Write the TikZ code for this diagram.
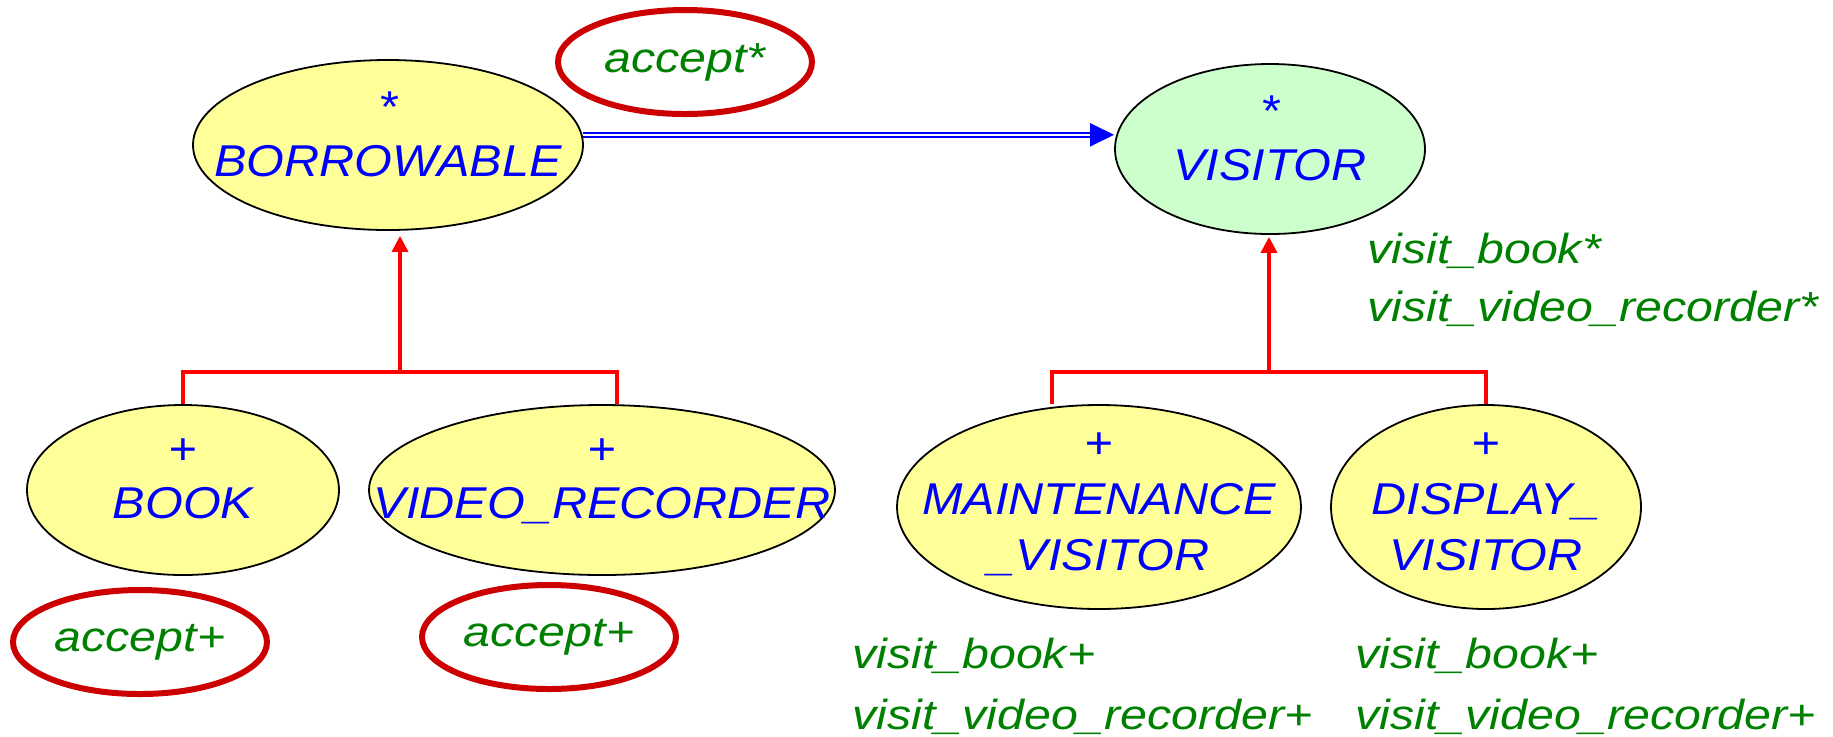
\documentclass[tikz,border=0pt]{standalone}
\usepackage{fontspec}
\setmainfont{Liberation Sans}
\newfontfamily\clsfam[FakeStretch=1.09]{Liberation Sans}
\newfontfamily\featfam[FakeStretch=1.15]{Liberation Sans}
\usetikzlibrary{arrows.meta,shapes.geometric}
\definecolor{clsyellow}{RGB}{255,255,153}
\definecolor{clsgreen}{RGB}{204,255,204}
\definecolor{featgreen}{RGB}{0,128,0}
\definecolor{ringred}{RGB}{204,0,0}
\newcommand\clsfont{\clsfam\fontsize{22.3}{27}\selectfont\itshape\lineskiplimit=-100pt}
\newcommand\featfont{\featfam\fontsize{21}{27}\selectfont\itshape}
\newcommand\stA{\rule[-11pt]{0pt}{16pt}}
\newcommand\stB{\rule[-6.5pt]{0pt}{20.5pt}}
\begin{document}
\begin{tikzpicture}[x=0.5pt,y=-0.5pt,
  cls/.style={ellipse, draw=black, line width=0.9pt, fill=clsyellow, text=blue,
    inner xsep=-400pt, inner ysep=-100pt, align=center, font=\clsfont},
  ring/.style={ellipse, draw=ringred, line width=3pt, text=featgreen,
    inner xsep=-400pt, inner ysep=-100pt, font=\featfont,
    minimum width=127pt, minimum height=52pt},
  feat/.style={anchor=base west, inner sep=0pt, text=featgreen, font=\featfont},
  inh/.style={draw=red, line width=1.7pt},
  inharrow/.style={inh, -{Triangle[length=8pt,width=8pt]}},
  assoc/.style={draw=blue, line width=1pt, double=white, double distance=1pt,
    -{Triangle[length=12pt,width=11.5pt]}}]
\useasboundingbox (0,0) rectangle (1833,736);

% classes
\node[cls, minimum width=195pt, minimum height=85pt] (borrow) at (388,145)
  {\stA *\\\stA BORROWABLE};
\node[cls, fill=clsgreen, minimum width=155pt, minimum height=85pt] (visitor) at (1270,149)
  {\stA *\\\stA VISITOR};
\node[cls, minimum width=156pt, minimum height=85pt] (book) at (183,490)
  {\stA +\\\stA BOOK};
\node[cls, minimum width=233pt, minimum height=85pt] (vr) at (602,490)
  {\stA +\\\stA VIDEO\_RECORDER};
\node[cls, minimum width=202pt, minimum height=102pt] (maint) at (1099,507)
  {\stB +\\[1pt]\stB MAINTENANCE\\[1pt]\stB \_VISITOR};
\node[cls, minimum width=155pt, minimum height=102pt] (disp) at (1486,507)
  {\stB +\\[1pt]\stB DISPLAY\_\\[1pt]\stB VISITOR};

% feature rings
\node[ring] (accA) at (685,62) {accept*};
\node[ring] (accB) at (140,642) {accept+};
\node[ring] (accC) at (549,637) {accept+};

% feature lists
\node[feat] (vtop1) at (1367,263) {visit\_book*};
\node[feat] (vtop2) at (1367,321) {visit\_video\_recorder*};
\node[feat] (vml1) at (852,668) {visit\_book+};
\node[feat] (vml2) at (852,729) {visit\_video\_recorder+};
\node[feat] (vdr1) at (1355,668) {visit\_book+};
\node[feat] (vdr2) at (1355,729) {visit\_video\_recorder+};

% client relation
\draw[assoc] (borrow.3) -- (visitor.west |- borrow.3);

% inheritance, left
\coordinate (jl) at (400,372);
\coordinate (jlr) at (617,372);
\draw[inharrow, shorten >=2.5pt] (jl) -- (jl |- borrow.south);
\draw[inh] (book.north) |- (jlr) -- (jlr |- vr.north);

% inheritance, right
\coordinate (jv) at (1269,372);
\coordinate (jvl) at (1052,372);
\coordinate (jvr) at (1486,372);
\draw[inharrow, shorten >=1pt] (jv) -- (jv |- visitor.south);
\draw[inh] (jvl |- maint.north) -- (jvl) -- (jvr) -- (disp.north);
\end{tikzpicture}
\end{document}
